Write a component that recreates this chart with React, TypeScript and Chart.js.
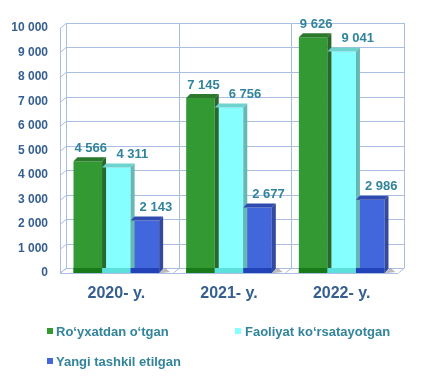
import React, { useEffect, useRef } from "react";
import { Chart, registerables } from "chart.js";

Chart.register(...registerables);

const categories = ["2020- y.", "2021- y.", "2022- y."];
const seriesNames = ["Ro‘yxatdan o‘tgan", "Faoliyat ko‘rsatayotgan", "Yangi tashkil etilgan"];
const registered = [4566, 7145, 9626];
const active = [4311, 6756, 9041];
const newlyCreated = [2143, 2677, 2986];
const yMax = 10000;
const yStep = 1000;

const frontColors = ["#339933", "#85FFFF", "#4266DC"];
const topColors = ["#2C782C", "#6ED2CE", "#2F4BB0"];
const sideColors = ["#28682A", "#66B8B4", "#34489C"];
const baseColors = ["#187A18", "#5CE0DC", "#2242B8"];
const labelOffsets = [3, 16, 11];

const fmt = (v: number) => {
  const s = Math.round(v).toString();
  return s.replace(/\B(?=(\d{3})+(?!\d))/g, " ");
};

const DX = 6;
const DY = 5;
const GRID = "#A9BEE2";

const wallPlugin = {
  id: "wall3d",
  beforeDatasetsDraw(chart: any) {
    const { ctx, chartArea, scales } = chart;
    const y = scales.y;
    const x = scales.x;
    const { left, right, top, bottom } = chartArea;
    ctx.save();
    ctx.strokeStyle = GRID;
    ctx.lineWidth = 1;
    ctx.beginPath();
    y.ticks.forEach((t: any) => {
      const py = Math.round(y.getPixelForValue(t.value)) + 0.5;
      ctx.moveTo(left, py);
      ctx.lineTo(left + DX, py - DY);
      ctx.lineTo(right + DX, py - DY);
    });
    // left front edge
    ctx.moveTo(left + 0.5, top);
    ctx.lineTo(left + 0.5, bottom);
    // back wall verticals
    const n = x.ticks.length;
    const w = (right - left) / n;
    for (let i = 0; i <= n; i++) {
      const px = Math.round(left + DX + i * w) + 0.5;
      ctx.moveTo(px, top - DY);
      ctx.lineTo(px, bottom - DY);
      ctx.moveTo(px, bottom - DY);
      ctx.lineTo(px - DX, bottom);
    }
    // floor front edge
    ctx.moveTo(left, Math.round(bottom) + 0.5);
    ctx.lineTo(right, Math.round(bottom) + 0.5);
    ctx.stroke();
    ctx.restore();
  },
  afterDatasetsDraw(chart: any) {
    const { ctx } = chart;
    ctx.save();
    chart.data.datasets.forEach((ds: any, di: number) => {
      const meta = chart.getDatasetMeta(di);
      meta.data.forEach((bar: any) => {
        const l = bar.x - bar.width / 2;
        const r = bar.x + bar.width / 2;
        const t = bar.y;
        const b = bar.base;
        // shadow on floor
        ctx.fillStyle = "rgba(60,60,60,0.35)";
        ctx.beginPath();
        ctx.moveTo(r, b);
        ctx.lineTo(r + DX, b - DY);
        ctx.lineTo(r + DX + 5, b - 1);
        ctx.lineTo(r + 3, b);
        ctx.closePath();
        ctx.fill();
        // base strip
        ctx.fillStyle = baseColors[di];
        ctx.fillRect(l, b - 5, r - l, 5);
        // top face
        ctx.fillStyle = topColors[di];
        ctx.beginPath();
        ctx.moveTo(l, t);
        ctx.lineTo(l + DX - 2, t - DY + 1);
        ctx.lineTo(r + DX - 2, t - DY + 1);
        ctx.lineTo(r, t);
        ctx.closePath();
        ctx.fill();
        // side face
        ctx.fillStyle = sideColors[di];
        ctx.beginPath();
        ctx.moveTo(r, t);
        ctx.lineTo(r + DX - 2, t - DY + 1);
        ctx.lineTo(r + DX - 2, b - DY + 1);
        ctx.lineTo(r, b);
        ctx.closePath();
        ctx.fill();
      });
    });
    // value labels
    ctx.font = "bold 13px 'Liberation Sans', Arial, sans-serif";
    ctx.fillStyle = "#31849B";
    ctx.textAlign = "center";
    ctx.textBaseline = "middle";
    chart.data.datasets.forEach((ds: any, di: number) => {
      const meta = chart.getDatasetMeta(di);
      meta.data.forEach((bar: any, i: number) => {
        ctx.fillText(fmt(ds.data[i]), bar.x + labelOffsets[di], bar.y - 13);
      });
    });
    ctx.restore();
  },
};

export default function App() {
  const ref = useRef<HTMLCanvasElement | null>(null);
  useEffect(() => {
    if (!ref.current) return;
    const chart = new Chart(ref.current, {
      type: "bar",
      data: {
        labels: categories,
        datasets: [
          { label: seriesNames[0], data: registered, backgroundColor: frontColors[0] },
          { label: seriesNames[1], data: active, backgroundColor: frontColors[1] },
          { label: seriesNames[2], data: newlyCreated, backgroundColor: frontColors[2] },
        ],
      },
      options: {
        animation: false,
        responsive: false,
        maintainAspectRatio: false,
        layout: { padding: { top: 28, right: 25, left: 0, bottom: 0 } },
        datasets: { bar: { categoryPercentage: 0.76, barPercentage: 1.0 } },
        plugins: { legend: { display: false }, tooltip: { enabled: false } },
        scales: {
          x: {
            grid: { display: false, drawTicks: false },
            border: { display: false },
            ticks: {
              padding: 11,
              color: "#365F91",
              font: { family: "'Liberation Sans', Arial, sans-serif", size: 16, weight: "bold" },
            },
            afterFit: (s: any) => {
              s.height = 103;
            },
          },
          y: {
            min: 0,
            max: yMax,
            grid: { display: false, drawTicks: false },
            border: { display: false },
            ticks: {
              stepSize: yStep,
              padding: 12,
              color: "#365F91",
              font: { family: "'Liberation Sans', Arial, sans-serif", size: 12, weight: "bold" },
              callback: (v: any) => fmt(Number(v)),
            },
            afterFit: (s: any) => {
              s.width = 60;
            },
          },
        },
      },
      plugins: [wallPlugin],
    });
    return () => chart.destroy();
  }, []);

  const legendText: React.CSSProperties = {
    position: "absolute",
    font: "bold 13px 'Liberation Sans', Arial, sans-serif",
    color: "#31849B",
    lineHeight: "16px",
    whiteSpace: "nowrap",
  };
  const marker = (left: number, top: number, color: string): React.CSSProperties => ({
    position: "absolute",
    left,
    top,
    width: 6,
    height: 6,
    background: color,
  });

  return (
    <div style={{ position: "fixed", left: 0, top: 0, width: 423, height: 376, background: "#fff" }}>
      <canvas ref={ref} width={423} height={376} style={{ display: "block" }} />
      <div style={marker(47, 328, frontColors[0])} />
      <div style={{ ...legendText, left: 56, top: 324 }}>{seriesNames[0]}</div>
      <div style={marker(235, 328, frontColors[1])} />
      <div style={{ ...legendText, left: 245, top: 324 }}>{seriesNames[1]}</div>
      <div style={marker(47, 358, frontColors[2])} />
      <div style={{ ...legendText, left: 56, top: 354 }}>{seriesNames[2]}</div>
    </div>
  );
}
